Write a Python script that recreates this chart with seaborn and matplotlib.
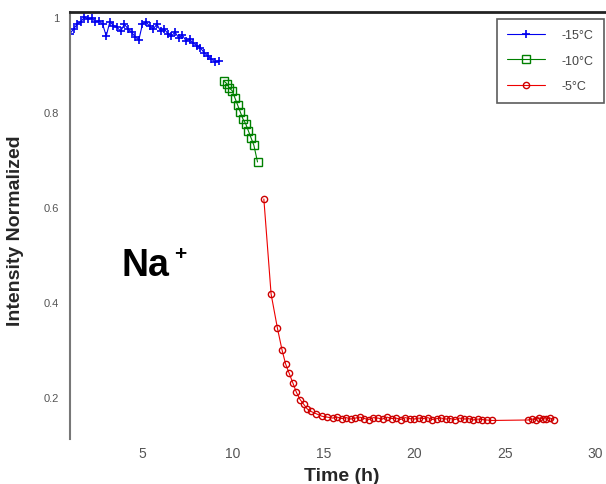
import numpy as np
import pandas as pd
import matplotlib
matplotlib.use('Agg')
import matplotlib.pyplot as plt
import seaborn as sns

# -15 C series
t_15 = [1.0, 1.2, 1.4, 1.6, 1.8, 2.0, 2.2, 2.4, 2.6, 2.8, 3.0, 3.2, 3.4, 3.6, 3.8,
        4.0, 4.2, 4.4, 4.6, 4.8, 5.0, 5.2, 5.4, 5.6, 5.8, 6.0, 6.2, 6.4, 6.6, 6.8,
        7.0, 7.2, 7.4, 7.6, 7.8, 8.0, 8.2, 8.4, 8.6, 8.8, 9.0, 9.2]
v_15 = [0.965, 0.975, 0.985, 0.99, 1.0, 0.995, 0.998, 0.99, 0.992, 0.985, 0.96, 0.99,
        0.982, 0.978, 0.97, 0.985, 0.975, 0.968, 0.958, 0.952, 0.985, 0.99, 0.98, 0.975,
        0.985, 0.97, 0.975, 0.965, 0.96, 0.968, 0.956, 0.962, 0.95, 0.953, 0.945, 0.94,
        0.935, 0.925, 0.918, 0.912, 0.905, 0.908]

# -10 C series
t_10 = [9.5, 9.65, 9.8, 9.95, 10.1, 10.25, 10.4, 10.55, 10.7, 10.85, 11.0, 11.15, 11.35]
v_10 = [0.865, 0.86, 0.85, 0.845, 0.83, 0.815, 0.80, 0.785, 0.775, 0.76, 0.745, 0.73, 0.695]

# -5 C series
t_5 = [11.7, 12.1, 12.45, 12.7, 12.9, 13.1, 13.3, 13.5, 13.7, 13.9, 14.1, 14.3, 14.6,
       14.9, 15.2, 15.5, 15.75, 16.0, 16.25, 16.5, 16.75, 17.0, 17.25, 17.5, 17.75,
       18.0, 18.25, 18.5, 18.75, 19.0, 19.25, 19.5, 19.75, 20.0, 20.25, 20.5, 20.75,
       21.0, 21.25, 21.5, 21.75, 22.0, 22.25, 22.5, 22.75, 23.0, 23.25, 23.5, 23.75,
       24.0, 24.3, 26.3, 26.5, 26.7, 26.9, 27.1, 27.3, 27.5, 27.7]
v_5 = [0.617, 0.417, 0.345, 0.30, 0.27, 0.25, 0.23, 0.21, 0.195, 0.185, 0.175, 0.17,
       0.165, 0.16, 0.158, 0.156, 0.158, 0.155, 0.157, 0.154, 0.156, 0.158, 0.155,
       0.153, 0.157, 0.156, 0.154, 0.158, 0.155, 0.156, 0.153, 0.157, 0.155, 0.154,
       0.156, 0.155, 0.157, 0.153, 0.155, 0.156, 0.154, 0.155, 0.153, 0.156, 0.154,
       0.155, 0.152, 0.154, 0.153, 0.152, 0.151, 0.152, 0.154, 0.153, 0.156, 0.155,
       0.154, 0.156, 0.153]

labels = ['-15°C', '-10°C', '-5°C']
yticks = [0.2, 0.4, 0.6, 0.8, 1.0]
ytick_labels = ['0.2', '0.4', '0.6', '0.8', '1']
xticks = [5, 10, 15, 20, 25, 30]

sns.set_style('white')
plt.rcParams['font.family'] = ['Liberation Sans', 'DejaVu Sans']

fig = plt.figure(figsize=(6.06, 4.85), dpi=100)
ax = fig.add_axes([70 / 606, 1 - 440 / 485, 543.5 / 606, 427 / 485])

# seaborn paints marker edges white by default, so set mec on each series
sns.lineplot(x=t_15, y=v_15, ax=ax, color='#0000ee', marker='+', markersize=6,
             mec='#0000ee', mew=1.2, lw=0.8, label=labels[0], sort=False)
sns.lineplot(x=t_10, y=v_10, ax=ax, color='#008000', marker='s', markersize=6,
             mfc='none', mec='#008000', mew=1.0, lw=0.8, label=labels[1], sort=False)
sns.lineplot(x=t_5, y=v_5, ax=ax, color='#ee0000', marker='o', markersize=4.5,
             mfc='none', mec='#cc0000', mew=1.0, lw=0.8, label=labels[2], sort=False)

ax.set_xlim(1, 31)
ax.set_ylim(0.112, 1.0105)
ax.set_xticks(xticks)
ax.set_yticks(yticks)
ax.set_yticklabels(ytick_labels)
ax.tick_params(axis='x', length=0, pad=5, labelsize=10, labelcolor='#555555')
ax.tick_params(axis='y', direction='in', length=4, width=1, color='#888888',
               labelsize=8, labelcolor='#555555', pad=8)

for s in ['right', 'bottom']:
    ax.spines[s].set_visible(False)
ax.spines['left'].set_color('#777777')
ax.spines['left'].set_linewidth(1.5)
ax.spines['top'].set_color('#222222')
ax.spines['top'].set_linewidth(2)

ax.set_xlabel('Time (h)', fontsize=14, fontweight='bold')
ax.xaxis.set_label_coords(0.5, -0.066)
ax.set_ylabel('Intensity Normalized', fontsize=14, fontweight='bold')
ax.yaxis.set_label_coords(-0.084, 0.49)

leg = ax.legend(loc='upper left', bbox_to_anchor=(497 / 606, 1 - 20 / 485),
                bbox_transform=fig.transFigure, frameon=True, fancybox=False,
                fontsize=9, handlelength=3.0, labelspacing=1.1, borderaxespad=0,
                borderpad=0.8, handletextpad=1.4)
leg.get_frame().set_edgecolor('#333333')
leg.get_frame().set_linewidth(1.2)
for txt in leg.get_texts():
    txt.set_color('#444444')

fig.text(122 / 606, 1 - 276 / 485, 'Na', fontsize=27, fontweight='bold',
         color='black', ha='left', va='baseline')
fig.text(174 / 606, 1 - 260 / 485, '+', fontsize=15, fontweight='bold',
         color='black', ha='left', va='baseline')

fig.savefig('out.png', dpi=100)
